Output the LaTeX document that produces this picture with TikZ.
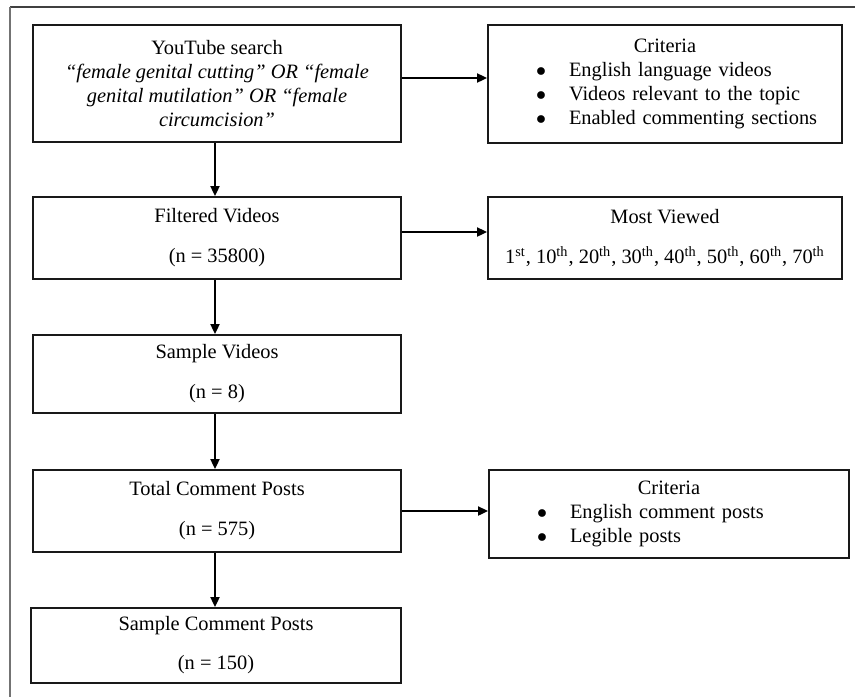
\documentclass[tikz,border=0pt]{standalone}
\usepackage{fontspec}
\setmainfont{Liberation Serif}
\usetikzlibrary{arrows.meta}
\newcommand{\critline}[1]{\hspace*{24pt}\makebox[16.5pt][l]{$\bullet$}#1}

\begin{document}
\begin{tikzpicture}[x=0.5pt,y=-0.5pt,
	box/.style={draw=black!90, line width=1pt, inner sep=0pt, align=center, font=\fontsize{10.2}{12}\selectfont},
	listbox/.style={box, align=left},
	arr/.style={line width=0.8pt, -{Triangle[length=5pt,width=4.6pt]}}]
	\useasboundingbox (0,0) rectangle (855,697);
	\draw[black!75, line width=1pt] (10,7) -- (855,7);
	\draw[black!55, line width=1pt] (10,6.5) -- (10,697);
	\node[box, minimum width=184pt, minimum height=58.5pt] (search) at (217,83.5) {YouTube search\\ \textit{“female genital cutting” OR “female}\\ \textit{genital mutilation” OR “female}\\ \textit{circumcision”}};
	\node[listbox, text width=177pt, minimum height=59pt] (crit1) at (665,84) {\makebox[\linewidth]{Criteria}\\ \critline{English language videos}\\ \critline{Videos relevant to the topic}\\ \critline{Enabled commenting sections}};
	\node[box, minimum width=184pt, minimum height=41pt] (filt) at (217,238) {Filtered Videos\\[8pt] (n = 35800)};
	\node[box, minimum width=177pt, minimum height=41pt] (most) at (665,238) {Most Viewed\\[8pt] 1\textsuperscript{st}, 10\textsuperscript{th}, 20\textsuperscript{th}, 30\textsuperscript{th}, 40\textsuperscript{th}, 50\textsuperscript{th}, 60\textsuperscript{th}, 70\textsuperscript{th}};
	\node[box, minimum width=184pt, minimum height=39pt] (samp) at (217,374) {Sample Videos\\[8pt] (n = 8)};
	\node[box, minimum width=184pt, minimum height=41pt] (total) at (217,511) {Total Comment Posts\\[8pt] (n = 575)};
	\node[listbox, text width=180pt, minimum height=44pt] (crit2) at (669,514) {\makebox[\linewidth]{Criteria}\\ \critline{English comment posts}\\ \critline{Legible posts}};
	\node[box, minimum width=185pt, minimum height=37.5pt] (samppost) at (216,645.5) {Sample Comment Posts\\[7.5pt] (n = 150)};
	\draw[arr] ([yshift=2.75pt]search.east) -- ([yshift=2.75pt]search.east -| crit1.west);
	\draw[arr] ([yshift=3pt]filt.east) -- ([yshift=3pt]filt.east -| most.west);
	\draw[arr] (total.east) -- (total.east -| crit2.west);
	\draw[arr] ([xshift=-1pt]search.south) -- ([xshift=-1pt]filt.north);
	\draw[arr] ([xshift=-1pt]filt.south) -- ([xshift=-1pt]samp.north);
	\draw[arr] ([xshift=-1pt]samp.south) -- ([xshift=-1pt]total.north);
	\draw[arr] ([xshift=-1pt]total.south) -- ([xshift=-1pt]total.south |- samppost.north);
\end{tikzpicture}
\end{document}
